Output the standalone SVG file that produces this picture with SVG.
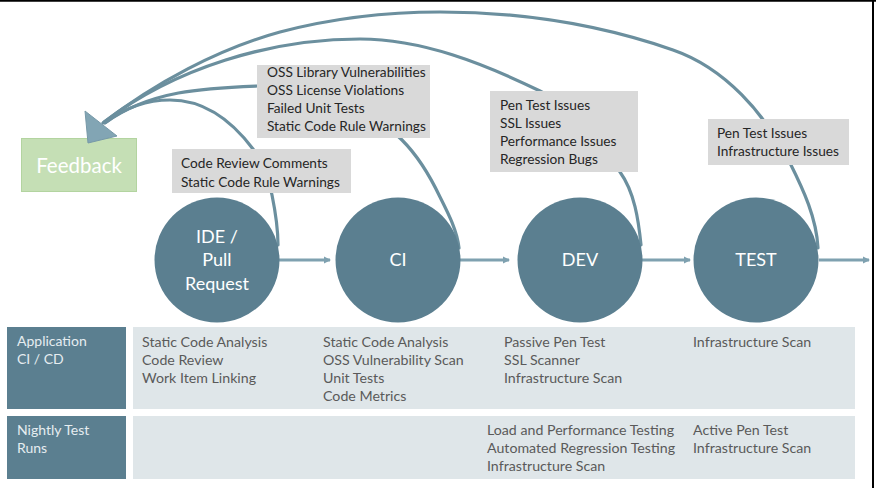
<svg xmlns="http://www.w3.org/2000/svg" width="876" height="488" viewBox="0 0 876 488">
<style>
.arc{fill:none;stroke:#6b8f9e;stroke-width:3.2;stroke-linecap:round}
.flow{fill:none;stroke:#7fa1b0;stroke-width:3}
.stage{fill:#5b7f90}
.stxt{font-family:Lato,"Liberation Sans",sans-serif;font-size:18px;fill:#ffffff;text-anchor:middle}
.lbox{fill:#d9d9d9}
.ltxt{font-family:Lato,"Liberation Sans",sans-serif;font-size:13.7px;fill:#262626}
.hdr{fill:#5b7f90}
.htxt{font-family:Lato,"Liberation Sans",sans-serif;font-size:14px;fill:#e6edf0}
.cell{fill:#dfe6e9}
.ctxt{font-family:Lato,"Liberation Sans",sans-serif;font-size:14.2px;fill:#5a5a5a}
</style>
<defs>
<marker id="ah" markerWidth="8" markerHeight="8" refX="6" refY="4" orient="auto" markerUnits="userSpaceOnUse">
<path d="M0,0.5 L7,4 L0,7.5 Z" fill="#7fa1b0"/>
</marker>
</defs>
<rect x="0" y="0" width="876" height="488" fill="#ffffff"/>
<line x1="0" y1="0.8" x2="876" y2="0.8" stroke="#000" stroke-width="2"/>
<line x1="873" y1="0" x2="873" y2="488" stroke="#000" stroke-width="2"/>

<g id="connectors">
<path class="arc" d="M818,248 C816.5,218 803.5,190 790,163 C765,113.5 725,68 673,50 C598,24 520,12 440,12 C385,12 333,18 280,32 C218,49 155,83 103,123"/>
<path class="arc" d="M641,245 C638.5,220 634.5,192 620,172 C597,139.6 576,108.6 540,91 C484,63.7 422,39 360,39 C270,39 175,68 104,122"/>
<path class="arc" d="M459,248 C457,230 448,213 440,197 C430,176 418,156 402,140 C363,101 312,83 257,86 C207,88 150,90 105,123"/>
<path class="arc" d="M278,245 C278,228 275.4,211.7 272,195 C268.6,178 263,162.6 253,149 C232,121 205,100 170,100 C148,100 125,108 106,122"/>
<line class="flow" x1="279" y1="260" x2="330" y2="260" marker-end="url(#ah)"/>
<line class="flow" x1="460" y1="260" x2="509" y2="260" marker-end="url(#ah)"/>
<line class="flow" x1="642" y1="260" x2="690" y2="260" marker-end="url(#ah)"/>
<line class="flow" x1="819" y1="260" x2="869" y2="260" marker-end="url(#ah)"/>
</g>

<g id="label-ide">
<rect class="lbox" x="172" y="149" width="179" height="44"/>
<text class="ltxt" x="181" y="167.5">Code Review Comments</text>
<text class="ltxt" x="181" y="186.5">Static Code Rule Warnings</text>
</g>
<g id="label-ci">
<rect class="lbox" x="257" y="65" width="173" height="73"/>
<text class="ltxt" x="267" y="76.5">OSS Library Vulnerabilities</text>
<text class="ltxt" x="267" y="94.5">OSS License Violations</text>
<text class="ltxt" x="267" y="112.5">Failed Unit Tests</text>
<text class="ltxt" x="267" y="130.5">Static Code Rule Warnings</text>
</g>
<g id="label-dev">
<rect class="lbox" x="490" y="91" width="148" height="81"/>
<text class="ltxt" x="500" y="109.5">Pen Test Issues</text>
<text class="ltxt" x="500" y="127.5">SSL Issues</text>
<text class="ltxt" x="500" y="145.5">Performance Issues</text>
<text class="ltxt" x="500" y="163.5">Regression Bugs</text>
</g>
<g id="label-test">
<rect class="lbox" x="708" y="119" width="141" height="46"/>
<text class="ltxt" x="717" y="137.5">Pen Test Issues</text>
<text class="ltxt" x="717" y="155.5">Infrastructure Issues</text>
</g>

<g id="feedback">
<rect x="21.5" y="138.5" width="115" height="53" fill="#c5dfb5" stroke="#b3d4a0" stroke-width="1"/>
<text x="79" y="173" font-family="Lato,'Liberation Sans',sans-serif" font-size="20.5" fill="#ffffff" text-anchor="middle">Feedback</text>
</g>
<g id="feedback-arrowhead">
<polygon points="85,111 117,136 88,143" fill="#82a5b4" stroke="#7799a8" stroke-width="1" stroke-linejoin="round"/>
</g>

<g id="stage-ide">
<circle class="stage" cx="217" cy="260" r="62.5"/>
<text class="stxt" x="217" y="243">IDE /</text>
<text class="stxt" x="217" y="266">Pull</text>
<text class="stxt" x="217" y="290">Request</text>
</g>
<g id="stage-ci">
<circle class="stage" cx="398" cy="260" r="62.5"/>
<text class="stxt" x="398" y="266">CI</text>
</g>
<g id="stage-dev">
<circle class="stage" cx="580" cy="260" r="62.5"/>
<text class="stxt" x="580" y="266">DEV</text>
</g>
<g id="stage-test">
<circle class="stage" cx="756" cy="260" r="62.5"/>
<text class="stxt" x="756" y="266">TEST</text>
</g>

<g id="row-app">
<rect class="hdr" x="7" y="327" width="119" height="82"/>
<text class="htxt" x="17" y="346">Application</text>
<text class="htxt" x="17" y="364">CI / CD</text>
<rect class="cell" x="133" y="327" width="722" height="82"/>
<text class="ctxt" x="142" y="347">Static Code Analysis</text>
<text class="ctxt" x="142" y="365">Code Review</text>
<text class="ctxt" x="142" y="383">Work Item Linking</text>
<text class="ctxt" x="323" y="347">Static Code Analysis</text>
<text class="ctxt" x="323" y="365">OSS Vulnerability Scan</text>
<text class="ctxt" x="323" y="383">Unit Tests</text>
<text class="ctxt" x="323" y="401">Code Metrics</text>
<text class="ctxt" x="504" y="347">Passive Pen Test</text>
<text class="ctxt" x="504" y="365">SSL Scanner</text>
<text class="ctxt" x="504" y="383">Infrastructure Scan</text>
<text class="ctxt" x="693" y="347">Infrastructure Scan</text>
</g>
<g id="row-nightly">
<rect class="hdr" x="7" y="416" width="119" height="63"/>
<text class="htxt" x="17" y="435">Nightly Test</text>
<text class="htxt" x="17" y="453">Runs</text>
<rect class="cell" x="133" y="416" width="722" height="63"/>
<text class="ctxt" x="487" y="435">Load and Performance Testing</text>
<text class="ctxt" x="487" y="453">Automated Regression Testing</text>
<text class="ctxt" x="487" y="471">Infrastructure Scan</text>
<text class="ctxt" x="693" y="435">Active Pen Test</text>
<text class="ctxt" x="693" y="453">Infrastructure Scan</text>
</g>
</svg>
